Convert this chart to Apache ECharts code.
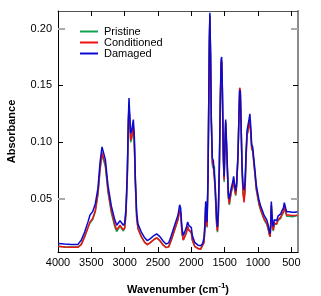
<!DOCTYPE html>
<html>
<head>
<meta charset="utf-8">
<script src="https://cdn.jsdelivr.net/npm/echarts@6/dist/echarts.min.js"></script>
<style>html,body{margin:0;padding:0;background:#fff;}#c{width:321px;height:296px;}</style>
</head>
<body>
<div id="c"></div>
<script>
var wavenumbers = [4000,3900,3800,3700,3650,3600,3550,3520,3480,3440,3400,3370,3340,3320,3290,3250,3200,3150,3120,3090,3070,3050,3020,3000,2980,2960,2945,2935,2925,2910,2895,2870,2855,2840,2820,2800,2750,2700,2660,2620,2560,2520,2480,2420,2380,2340,2300,2250,2200,2175,2160,2140,2120,2100,2075,2055,2040,2020,2000,1985,1950,1900,1860,1830,1810,1795,1785,1775,1765,1750,1740,1730,1722,1712,1700,1685,1670,1655,1640,1620,1608,1595,1580,1565,1553,1545,1535,1520,1508,1495,1485,1475,1460,1445,1430,1415,1400,1380,1365,1350,1335,1320,1300,1285,1275,1265,1255,1240,1225,1210,1195,1180,1165,1150,1135,1122,1110,1095,1080,1065,1045,1025,1000,985,960,935,910,890,870,850,830,818,808,800,792,780,770,755,740,720,700,680,660,640,620,605,597,585,570,550,530,510,490,470,450,430,410];
var damaged = [0.0110,0.0105,0.0102,0.0102,0.0140,0.0210,0.0300,0.0360,0.0390,0.0460,0.0600,0.0820,0.0960,0.0960,0.0850,0.0620,0.0440,0.0320,0.0270,0.0275,0.0310,0.0295,0.0270,0.0290,0.0420,0.0750,0.1200,0.1390,0.1250,0.1080,0.1100,0.1200,0.1050,0.0700,0.0380,0.0280,0.0210,0.0160,0.0135,0.0150,0.0180,0.0195,0.0175,0.0130,0.0105,0.0115,0.0180,0.0270,0.0360,0.0450,0.0420,0.0240,0.0180,0.0190,0.0250,0.0300,0.0270,0.0260,0.0250,0.0180,0.0120,0.0095,0.0090,0.0110,0.0160,0.0300,0.0480,0.0400,0.0300,0.0700,0.1300,0.1900,0.2140,0.1800,0.1200,0.0860,0.0840,0.0850,0.0600,0.0320,0.0255,0.0400,0.0800,0.1400,0.1730,0.1750,0.1500,0.0900,0.0700,0.1000,0.1200,0.1050,0.0800,0.0550,0.0500,0.0560,0.0600,0.0650,0.0700,0.0620,0.0570,0.0650,0.0900,0.1250,0.1460,0.1440,0.1200,0.0800,0.0620,0.0580,0.0640,0.0900,0.1100,0.1150,0.1200,0.1250,0.1150,0.0980,0.0960,0.0950,0.0750,0.0620,0.0540,0.0490,0.0440,0.0400,0.0360,0.0340,0.0320,0.0280,0.0220,0.0195,0.0300,0.0480,0.0380,0.0280,0.0260,0.0320,0.0330,0.0310,0.0350,0.0360,0.0370,0.0400,0.0420,0.0470,0.0480,0.0420,0.0390,0.0400,0.0390,0.0400,0.0385,0.0395,0.0385,0.0395,0.0390];
var conditioned = [0.0085,0.0080,0.0077,0.0077,0.0100,0.0170,0.0250,0.0300,0.0330,0.0400,0.0560,0.0770,0.0910,0.0910,0.0810,0.0580,0.0400,0.0280,0.0230,0.0235,0.0270,0.0255,0.0230,0.0250,0.0380,0.0720,0.1150,0.1340,0.1200,0.1020,0.1050,0.1150,0.1000,0.0650,0.0340,0.0240,0.0170,0.0120,0.0100,0.0115,0.0145,0.0160,0.0140,0.0095,0.0075,0.0080,0.0140,0.0230,0.0320,0.0400,0.0380,0.0200,0.0140,0.0150,0.0200,0.0260,0.0230,0.0220,0.0210,0.0140,0.0085,0.0065,0.0060,0.0075,0.0120,0.0250,0.0430,0.0360,0.0260,0.0650,0.1250,0.1850,0.2110,0.1780,0.1180,0.0820,0.0800,0.0810,0.0560,0.0280,0.0220,0.0360,0.0760,0.1360,0.1700,0.1720,0.1470,0.0860,0.0670,0.0970,0.1180,0.1020,0.0770,0.0520,0.0460,0.0520,0.0570,0.0620,0.0670,0.0590,0.0540,0.0620,0.0880,0.1250,0.1480,0.1460,0.1200,0.0780,0.0560,0.0470,0.0560,0.0850,0.1060,0.1100,0.1150,0.1200,0.1100,0.0950,0.0930,0.0920,0.0720,0.0590,0.0510,0.0460,0.0410,0.0370,0.0330,0.0310,0.0290,0.0250,0.0190,0.0170,0.0270,0.0450,0.0350,0.0250,0.0230,0.0290,0.0300,0.0280,0.0320,0.0330,0.0340,0.0370,0.0390,0.0440,0.0450,0.0390,0.0360,0.0370,0.0360,0.0370,0.0355,0.0365,0.0355,0.0365,0.0360];
var pristine = [0.0085,0.0080,0.0078,0.0078,0.0105,0.0170,0.0250,0.0290,0.0320,0.0390,0.0540,0.0750,0.0890,0.0890,0.0790,0.0560,0.0380,0.0260,0.0215,0.0220,0.0260,0.0245,0.0220,0.0240,0.0370,0.0700,0.1150,0.1340,0.1200,0.1000,0.1030,0.1130,0.0980,0.0630,0.0330,0.0240,0.0170,0.0120,0.0100,0.0115,0.0145,0.0160,0.0140,0.0095,0.0075,0.0080,0.0140,0.0230,0.0320,0.0410,0.0380,0.0200,0.0140,0.0150,0.0210,0.0260,0.0230,0.0220,0.0200,0.0140,0.0085,0.0065,0.0060,0.0075,0.0120,0.0250,0.0430,0.0360,0.0250,0.0650,0.1250,0.1850,0.2120,0.1780,0.1180,0.0800,0.0770,0.0790,0.0540,0.0270,0.0210,0.0350,0.0750,0.1350,0.1690,0.1710,0.1460,0.0850,0.0650,0.0960,0.1170,0.1010,0.0760,0.0510,0.0450,0.0510,0.0560,0.0610,0.0660,0.0580,0.0530,0.0620,0.0880,0.1240,0.1450,0.1420,0.1180,0.0770,0.0550,0.0500,0.0580,0.0860,0.1060,0.1100,0.1150,0.1180,0.1090,0.0940,0.0920,0.0910,0.0710,0.0580,0.0500,0.0450,0.0400,0.0360,0.0320,0.0300,0.0280,0.0240,0.0190,0.0170,0.0270,0.0440,0.0340,0.0240,0.0220,0.0280,0.0290,0.0280,0.0310,0.0320,0.0330,0.0360,0.0380,0.0430,0.0440,0.0380,0.0350,0.0360,0.0350,0.0360,0.0345,0.0355,0.0350,0.0355,0.0355];
var seriesNames = ['Pristine','Conditioned','Damaged'];
var xTicks = [500,1000,1500,2000,2500,3000,3500,4000];
var yTicks = [0.05,0.10,0.15,0.20];
var yTicksDark = [0.10,0.15];
var yTicksGray = [0.05,0.20];

function pairs(arr){ return wavenumbers.map(function(w,i){ return [w, arr[i]]; }); }
var FONT = '"Liberation Sans", Arial, Helvetica, sans-serif';
var YMIN = 0.0035, YMAX = 0.2155;
var chart = echarts.init(document.getElementById('c'), null, {renderer:'canvas'});
var tickIn = {show:true, inside:true, length:5, lineStyle:{color:'#000', width:1}};
var grayTick = {show:true, inside:true, length:7, lineStyle:{color:'#aaaaaa', width:2}};
chart.setOption({
  animation:false,
  backgroundColor:'#fff',
  grid:{left:58, right:23, top:11, bottom:44, containLabel:false, outerBoundsMode:'none'},
  legend:{
    orient:'vertical', left:75, top:21, itemWidth:18, itemHeight:2, itemGap:0,
    icon:'rect',
    textStyle:{fontFamily:FONT, fontSize:11, color:'#000', padding:[0,0,0,1]},
    data:seriesNames
  },
  xAxis:[{
    type:'value', inverse:true, min:400, max:4000, position:'bottom',
    axisLine:{show:true, lineStyle:{color:'#000', width:1}},
    axisTick:Object.assign({customValues:xTicks}, tickIn),
    axisLabel:{customValues:xTicks, color:'#000', fontFamily:FONT, fontSize:11, margin:5,
      formatter:function(v){return String(v);}},
    splitLine:{show:false},
    name:'Wavenumber (cm{sup|-1})', nameLocation:'middle', nameGap:30,
    nameTextStyle:{fontFamily:FONT, fontSize:11, fontWeight:'bold', color:'#000',
      rich:{sup:{fontFamily:FONT, fontSize:8, fontWeight:'bold', color:'#000', verticalAlign:'top', padding:[0,0,7,0]}}}
  },{
    type:'value', inverse:true, min:400, max:4000, position:'top',
    axisLine:{show:true, lineStyle:{color:'#555', width:1}},
    axisTick:Object.assign({customValues:xTicks}, tickIn),
    axisLabel:{show:false}, splitLine:{show:false}
  }],
  yAxis:[{
    type:'value', min:YMIN, max:YMAX, position:'left',
    axisLine:{show:true, lineStyle:{color:'#000', width:1}},
    axisTick:Object.assign({customValues:yTicksDark}, tickIn),
    axisLabel:{customValues:yTicks, color:'#000', fontFamily:FONT, fontSize:11, margin:6,
      formatter:function(v){return v.toFixed(2);}},
    splitLine:{show:false},
    name:'Absorbance', nameLocation:'middle', nameGap:41,
    nameTextStyle:{fontFamily:FONT, fontSize:11, fontWeight:'bold', color:'#000'}
  },{
    type:'value', min:YMIN, max:YMAX, position:'right',
    axisLine:{show:true, lineStyle:{color:'#8a8a8a', width:2}},
    axisTick:{show:true, inside:true, length:5, customValues:yTicksDark, lineStyle:{color:'#000', width:1}},
    axisLabel:{show:false}, splitLine:{show:false}
  },{
    type:'value', min:YMIN, max:YMAX, position:'left', offset:0,
    axisLine:{show:false},
    axisTick:Object.assign({customValues:yTicksGray}, grayTick),
    axisLabel:{show:false}, splitLine:{show:false}
  },{
    type:'value', min:YMIN, max:YMAX, position:'right', offset:0,
    axisLine:{show:false},
    axisTick:Object.assign({customValues:yTicksGray}, grayTick),
    axisLabel:{show:false}, splitLine:{show:false}
  }],
  series:[
    {name:'Pristine', type:'line', data:pairs(pristine), showSymbol:false, symbol:'none', color:'#10a050', lineStyle:{width:1.5}},
    {name:'Conditioned', type:'line', data:pairs(conditioned), showSymbol:false, symbol:'none', color:'#f01010', lineStyle:{width:1.5}},
    {name:'Damaged', type:'line', data:pairs(damaged), showSymbol:false, symbol:'none', color:'#0a0ad2', lineStyle:{width:1.5}}
  ]
});
</script>
</body>
</html>
